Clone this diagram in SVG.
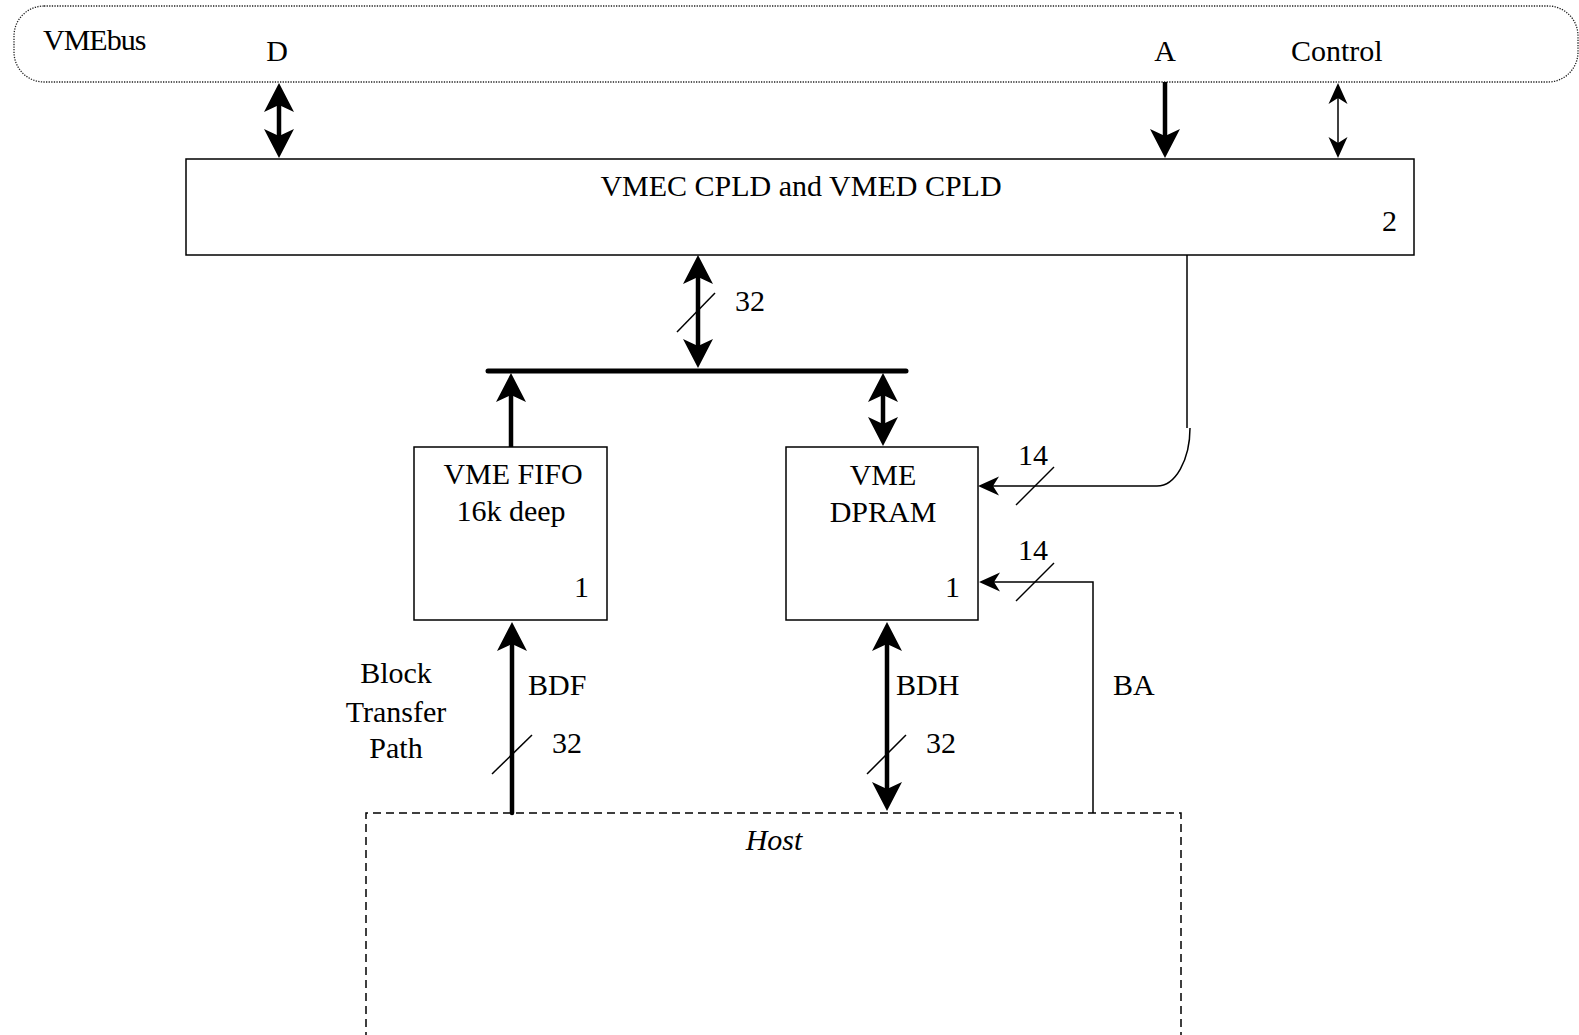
<svg xmlns="http://www.w3.org/2000/svg" width="1579" height="1035" viewBox="0 0 1579 1035">
<style>
text{font-family:"Liberation Serif","Times New Roman",serif;font-size:30px;fill:#000}
.c{text-anchor:middle}
.box{fill:#fff;stroke:#000;stroke-width:1.5}
.thick{stroke:#000;stroke-width:4.5;fill:none}
.thin{stroke:#000;stroke-width:1.5;fill:none}
</style>
<defs>
<marker id="ah" viewBox="-8 -16 32 32" refX="0" refY="0" markerWidth="32" markerHeight="32" markerUnits="userSpaceOnUse" orient="auto-start-reverse">
<path d="M22,0 L-7,-15 L0,0 L-7,15 Z" fill="#000"/>
</marker>
<marker id="as" viewBox="-8 -12 24 24" refX="0" refY="0" markerWidth="24" markerHeight="24" markerUnits="userSpaceOnUse" orient="auto-start-reverse">
<path d="M15,0 L-6,-9.5 L0,0 L-6,9.5 Z" fill="#000"/>
</marker>
</defs>
<rect width="1579" height="1035" fill="#fff"/>

<g id="vmebus">
<rect x="14" y="6" width="1564" height="76" rx="30" ry="30" fill="none" stroke="#222" stroke-width="1.3" stroke-dasharray="1.3,1.3"/>
<text x="43" y="50" letter-spacing="-1">VMEbus</text>
<text x="277" y="61" class="c">D</text>
<text x="1165" y="61" class="c">A</text>
<text x="1291" y="61">Control</text>
</g>

<g id="cpld">
<rect x="186" y="159" width="1228" height="96" class="box"/>
<text x="801" y="196" class="c">VMEC CPLD and VMED CPLD</text>
<text x="1382" y="231">2</text>
</g>

<g id="fifo">
<rect x="414" y="447" width="193" height="173" class="box"/>
<text x="513" y="484" class="c">VME FIFO</text>
<text x="511" y="521" class="c">16k deep</text>
<text x="574" y="597">1</text>
</g>

<g id="dpram">
<rect x="786" y="447" width="192" height="173" class="box"/>
<text x="883" y="485" class="c">VME</text>
<text x="883" y="522" class="c">DPRAM</text>
<text x="945" y="597">1</text>
</g>

<g id="host">
<path d="M366,1040 V813 H1181 V1040" fill="none" stroke="#000" stroke-width="1.5" stroke-dasharray="8,5"/>
<text x="774" y="850" class="c" font-style="italic">Host</text>
</g>

<g id="connectors">
<line x1="279" y1="105" x2="279" y2="136" class="thick" marker-start="url(#ah)" marker-end="url(#ah)"/>
<line x1="1165" y1="82" x2="1165" y2="136" class="thick" marker-end="url(#ah)"/>
<line x1="1338" y1="98" x2="1338" y2="143" class="thin" marker-start="url(#as)" marker-end="url(#as)"/>

<line x1="698" y1="277" x2="698" y2="346" class="thick" marker-start="url(#ah)" marker-end="url(#ah)"/>
<line x1="677" y1="332" x2="715" y2="293" class="thin"/>
<text x="735" y="311">32</text>

<line x1="488" y1="371" x2="906" y2="371" stroke="#000" stroke-width="5" stroke-linecap="round"/>
<line x1="511" y1="447" x2="511" y2="395" class="thick" marker-end="url(#ah)"/>
<line x1="883" y1="395" x2="883" y2="424" class="thick" marker-start="url(#ah)" marker-end="url(#ah)"/>

<path d="M1187,255 V428" class="thin"/>
<path d="M1190,428 A33,58 0 0 1 1157,486 H993" class="thin" marker-end="url(#as)"/>
<line x1="1016" y1="505" x2="1054" y2="467" class="thin"/>
<text x="1018" y="465">14</text>

<path d="M1093,813 V582 H994" class="thin" marker-end="url(#as)"/>
<line x1="1016" y1="601" x2="1054" y2="563" class="thin"/>
<text x="1018" y="560">14</text>
<text x="1113" y="695">BA</text>

<line x1="512" y1="813" x2="512" y2="644" class="thick" stroke-linecap="round" marker-end="url(#ah)"/>
<line x1="492" y1="774" x2="532" y2="735" class="thin"/>
<text x="528" y="695">BDF</text>
<text x="552" y="753">32</text>
<text x="396" y="683" class="c">Block</text>
<text x="396" y="722" class="c">Transfer</text>
<text x="396" y="758" class="c">Path</text>

<line x1="887" y1="644" x2="887" y2="789" class="thick" marker-start="url(#ah)" marker-end="url(#ah)"/>
<line x1="867" y1="774" x2="906" y2="735" class="thin"/>
<text x="896" y="695">BDH</text>
<text x="926" y="753">32</text>
</g>
</svg>
